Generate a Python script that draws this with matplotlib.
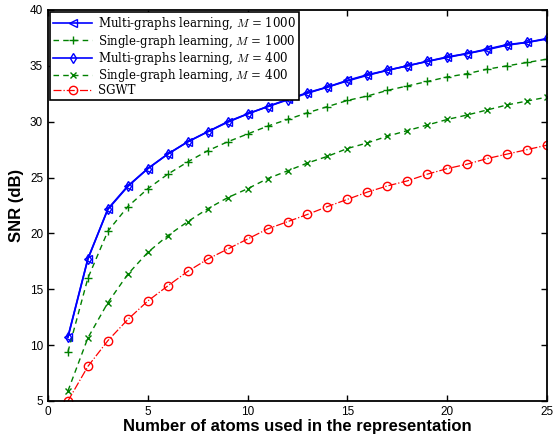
import matplotlib
matplotlib.use('Agg')
import matplotlib.pyplot as plt

atoms = list(range(1, 26))

multi_1000 = [10.7, 17.7, 22.2, 24.25, 25.8, 27.1, 28.2, 29.1, 30.0, 30.7,
              31.35, 32.0, 32.6, 33.1, 33.7, 34.2, 34.6, 35.0, 35.4, 35.8,
              36.1, 36.5, 36.9, 37.1, 37.4]
multi_400 = [10.75, 17.75, 22.15, 24.2, 25.8, 27.1, 28.2, 29.1, 29.95, 30.7,
             31.35, 31.95, 32.55, 33.1, 33.65, 34.15, 34.6, 35.0, 35.4, 35.75,
             36.1, 36.45, 36.85, 37.1, 37.45]
single_1000 = [9.4, 16.0, 20.2, 22.4, 24.0, 25.3, 26.4, 27.4, 28.2, 28.9,
               29.6, 30.2, 30.8, 31.35, 31.9, 32.3, 32.8, 33.2, 33.6, 34.0,
               34.3, 34.7, 35.0, 35.3, 35.6]
single_400 = [5.9, 10.65, 13.8, 16.35, 18.3, 19.8, 21.05, 22.2, 23.2, 24.0,
              24.9, 25.6, 26.3, 26.9, 27.6, 28.1, 28.7, 29.2, 29.7, 30.2,
              30.6, 31.05, 31.5, 31.85, 32.2]
sgwt = [5.0, 8.1, 10.4, 12.3, 13.95, 15.3, 16.6, 17.7, 18.6, 19.5,
        20.4, 21.05, 21.7, 22.4, 23.05, 23.7, 24.25, 24.7, 25.3, 25.8,
        26.2, 26.7, 27.1, 27.5, 27.9]

plt.rcParams['mathtext.fontset'] = 'cm'
plt.rcParams['font.family'] = 'Liberation Sans'

fig = plt.figure(figsize=(5.56, 4.38), dpi=100)
ax = fig.add_axes([0.0863, 0.0845, 0.8975, 0.8927])

ax.plot(atoms, multi_1000, color='#0000ff', ls='-', lw=1.2, marker='<',
        ms=5.5, mfc='none', mec='#0000ff', label='Multi-graphs learning, $M$ = 1000')
ax.plot(atoms, single_1000, color='#008000', ls=(0, (4, 3)), lw=1.0, marker='+',
        ms=6, mec='#008000', label='Single-graph learning, $M$ = 1000')
ax.plot(atoms, multi_400, color='#0000ff', ls='-', lw=1.2, marker='d',
        ms=5.5, mfc='none', mec='#0000ff', label='Multi-graphs learning, $M$ = 400')
ax.plot(atoms, single_400, color='#008000', ls=(0, (4, 3)), lw=1.0, marker='x',
        ms=4.5, mec='#008000', label='Single-graph learning, $M$ = 400')
ax.plot(atoms, sgwt, color='#ff0000', ls='-.', lw=0.9, marker='o',
        ms=6, mfc='none', mec='#ff0000', label='SGWT')

ax.set_xlim(0, 25)
ax.set_ylim(5, 40)
ax.set_xticks([0, 5, 10, 15, 20, 25])
ax.set_yticks([5, 10, 15, 20, 25, 30, 35, 40])
ax.tick_params(direction='in', top=True, right=True, labelsize=8.5, length=4, width=1)
for s in ax.spines.values():
    s.set_linewidth(1.3)

ax.set_xlabel('Number of atoms used in the representation', fontsize=12,
              fontweight='bold', labelpad=1)
ax.set_ylabel('SNR (dB)', fontsize=12, fontweight='bold', labelpad=4)

leg = ax.legend(loc='upper left', prop={'family': 'DejaVu Serif', 'size': 8.5},
                frameon=True, fancybox=False, borderaxespad=0.2,
                handlelength=3.3, labelspacing=0.02, borderpad=0.25,
                handletextpad=0.5)
leg.get_frame().set_edgecolor('black')
leg.get_frame().set_linewidth(1.2)
leg.get_frame().set_alpha(1)

fig.savefig('out.png', dpi=100)
